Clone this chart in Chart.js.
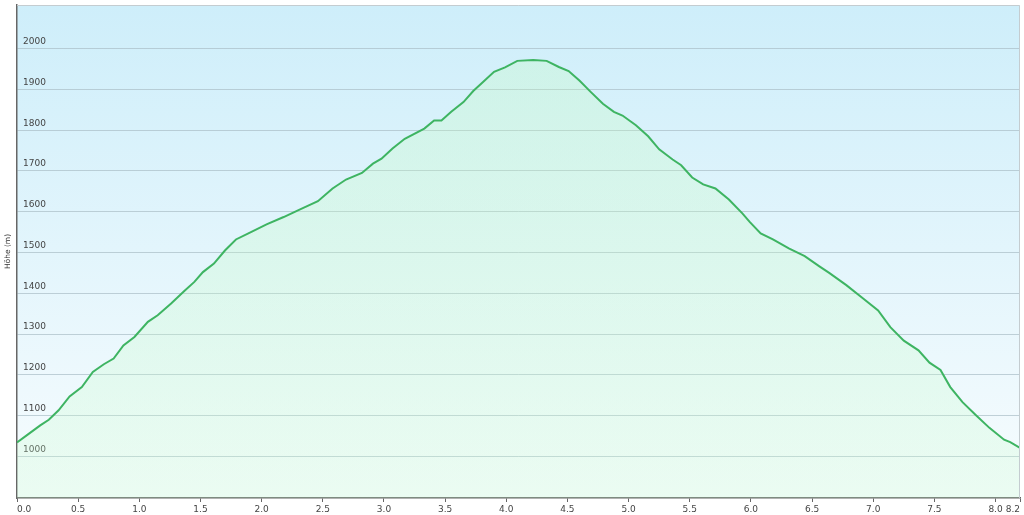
<!DOCTYPE html>
<html lang="de">
<head>
<meta charset="UTF-8">
<title>Höhenprofil</title>
<script src="https://cdn.jsdelivr.net/npm/chart.js"></script>
<style>
  body { margin: 0; background: #fff; }
</style>
</head>
<body>
<canvas id="profil" width="1024" height="515"></canvas>
<script>
// Distanz in km, Höhe in m
const distanz = [0.00, 0.09, 0.19, 0.26, 0.34, 0.43, 0.53, 0.62, 0.71, 0.79, 0.87, 0.96,
  1.07, 1.15, 1.26, 1.37, 1.45, 1.52, 1.61, 1.70, 1.79, 1.90, 2.04, 2.18, 2.31, 2.46,
  2.58, 2.69, 2.82, 2.91, 2.98, 3.07, 3.17, 3.33, 3.41, 3.47, 3.55, 3.65, 3.73, 3.81,
  3.90, 3.99, 4.09, 4.22, 4.33, 4.43, 4.51, 4.60, 4.69, 4.79, 4.88, 4.95, 5.06, 5.16,
  5.25, 5.36, 5.43, 5.52, 5.61, 5.71, 5.82, 5.93, 5.99, 6.08, 6.18, 6.31, 6.44, 6.56,
  6.64, 6.78, 6.91, 7.04, 7.14, 7.25, 7.37, 7.46, 7.55, 7.63, 7.73, 7.84, 7.95, 8.07,
  8.12, 8.20];
const hoehe = [1034, 1054, 1076, 1090, 1113, 1147, 1170, 1207, 1226, 1240, 1272, 1293,
  1330, 1346, 1375, 1406, 1428, 1452, 1473, 1505, 1532, 1548, 1569, 1587, 1605, 1626,
  1657, 1679, 1695, 1718, 1730, 1755, 1779, 1804, 1824, 1824, 1845, 1869, 1896, 1918,
  1943, 1954, 1970, 1972, 1970, 1955, 1945, 1921, 1894, 1865, 1845, 1836, 1812, 1785,
  1753, 1728, 1714, 1684, 1667, 1657, 1630, 1596, 1575, 1547, 1532, 1510, 1491, 1466,
  1450, 1420, 1389, 1358, 1317, 1284, 1260, 1230, 1212, 1170, 1133, 1101, 1070, 1041,
  1035, 1021];

const xTicks = [0, 0.5, 1, 1.5, 2, 2.5, 3, 3.5, 4, 4.5, 5, 5.5, 6, 6.5, 7, 7.5, 8, 8.2];
const yTicks = [1000, 1100, 1200, 1300, 1400, 1500, 1600, 1700, 1800, 1900, 2000];

const punkte = distanz.map((d, i) => ({ x: d, y: hoehe[i] }));

// Hintergrund (blauer Verlauf) und Rahmen der Zeichenfläche
const hintergrund = {
  id: 'hintergrund',
  beforeDraw(chart) {
    const { ctx, chartArea: a } = chart;
    const g = ctx.createLinearGradient(0, a.top, 0, a.bottom);
    g.addColorStop(0, 'rgb(206,238,250)');
    g.addColorStop(1, 'rgb(247,252,254)');
    ctx.save();
    ctx.fillStyle = g;
    ctx.fillRect(a.left, a.top, a.right - a.left, a.bottom - a.top);
    ctx.restore();
  },
  afterDraw(chart) {
    const { ctx, chartArea: a } = chart;
    ctx.save();
    ctx.strokeStyle = '#c4ccd0';
    ctx.lineWidth = 1;
    ctx.beginPath();
    ctx.moveTo(a.left, a.top + 0.5);
    ctx.lineTo(a.right - 0.5, a.top + 0.5);
    ctx.lineTo(a.right - 0.5, a.bottom);
    ctx.stroke();
    ctx.restore();
  }
};

// halbtransparente grüne Fläche, damit Gitter und Beschriftung durchscheinen
function flaeche(context) {
  const a = context.chart.chartArea;
  if (!a) return 'rgba(196,253,190,0.25)';
  const g = context.chart.ctx.createLinearGradient(0, a.top, 0, a.bottom);
  g.addColorStop(0, 'rgba(194,254,178,0.25)');
  g.addColorStop(1, 'rgba(199,252,206,0.25)');
  return g;
}

// erste und letzte Beschriftung nach innen schieben (wie im Original)
const luecke = '\u00a0'.repeat(5);
function xLabel(v, i, ticks) {
  const t = Number(v).toFixed(1);
  if (i === 0) return luecke + t;
  if (i === ticks.length - 1) return t + luecke;
  return t;
}

new Chart(document.getElementById('profil'), {
  type: 'line',
  data: {
    datasets: [{
      data: punkte,
      borderColor: 'rgb(62,180,98)',
      borderWidth: 2,
      backgroundColor: flaeche,
      fill: 'start',
      pointRadius: 0,
      tension: 0
    }]
  },
  options: {
    responsive: false,
    animation: false,
    devicePixelRatio: 1,
    layout: { padding: { top: 5, right: 4, left: 0, bottom: 0 } },
    plugins: { legend: { display: false }, tooltip: { enabled: false } },
    scales: {
      x: {
        type: 'linear',
        min: 0,
        max: 8.2,
        afterBuildTicks: (scale) => { scale.ticks = xTicks.map(v => ({ value: v })); },
        afterFit: (scale) => { scale.paddingLeft = 0; scale.paddingRight = 0; scale.height = 17; },
        grid: { drawOnChartArea: false, drawTicks: true, tickLength: 4, color: '#666' },
        border: { color: '#666', width: 1.5 },
        ticks: {
          autoSkip: false,
          maxRotation: 0,
          padding: 2,
          color: '#444',
          font: { family: 'DejaVu Sans', size: 9 },
          callback: xLabel
        }
      },
      y: {
        min: 898,
        max: 2107,
        afterBuildTicks: (scale) => { scale.ticks = yTicks.map(v => ({ value: v })); },
        afterFit: (scale) => { scale.paddingTop = 0; scale.paddingBottom = 0; scale.width = 17; },
        grid: { color: 'rgba(170,190,198,0.7)', drawTicks: false, lineWidth: 1 },
        border: { color: '#666', width: 1.5 },
        ticks: {
          autoSkip: false,
          mirror: true,
          padding: 6,
          labelOffset: -7,
          color: '#444',
          font: { family: 'DejaVu Sans', size: 9 },
          callback: (v) => String(v)
        },
        title: {
          display: true,
          text: 'Höhe (m)',
          color: '#333',
          padding: { top: 4, bottom: 4 },
          font: { family: 'DejaVu Sans', size: 7.5 }
        }
      }
    }
  },
  plugins: [hintergrund]
});
</script>
</body>
</html>
